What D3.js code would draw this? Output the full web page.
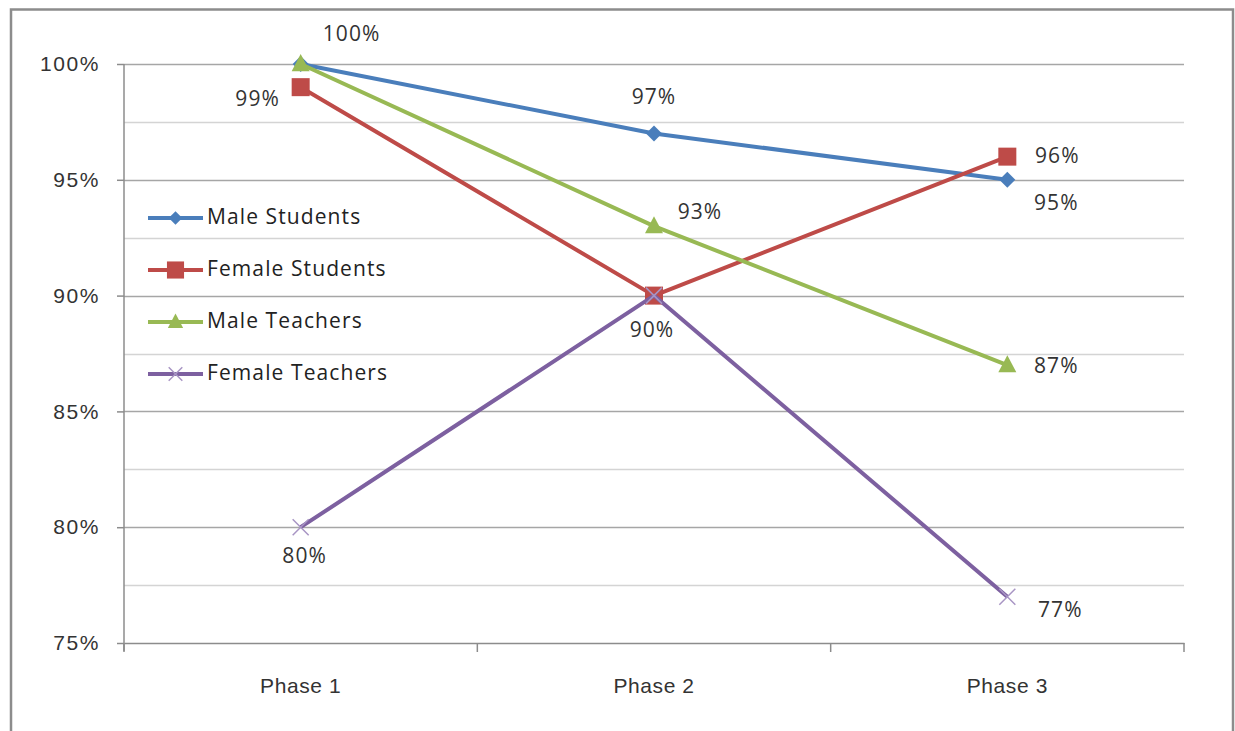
<!DOCTYPE html>
<html>
<head>
<meta charset="utf-8">
<script src="https://cdn.jsdelivr.net/npm/d3@7"></script>
<style>
  html, body { margin: 0; padding: 0; background: #fff; }
  svg { display: block; font-family: "Open Sans", Lato, sans-serif; }
  svg text { letter-spacing: 1.1px; }
</style>
</head>
<body>
<div id="chart"></div>
<script>
// Categories along the x axis
const phases = ["Phase 1", "Phase 2", "Phase 3"];

// Series values (percent)
const maleStudents   = [100, 97, 95];
const femaleStudents = [99, 90, 96];
const maleTeachers   = [100, 93, 87];
const femaleTeachers = [80, 90, 77];

// Y axis tick labels
const yTicks = [75, 80, 85, 90, 95, 100];

const W = 1235, H = 731;
const plot = { left: 124, right: 1184, top: 64, bottom: 643 };

const series = [
  { name: "Male Students",   values: maleStudents,   color: "#4A7EBB", marker: "diamond",
    labels: [{dx: 51, dy: -29}, {dx: 0, dy: -35}, {dx: 49, dy: 25}] },
  { name: "Female Students", values: femaleStudents, color: "#BE4B48", marker: "square",
    labels: [{dx: -43, dy: 13}, null, {dx: 50, dy: 1}] },
  { name: "Male Teachers",   values: maleTeachers,   color: "#98B954", marker: "triangle",
    labels: [null, {dx: 46, dy: -13}, {dx: 49, dy: 2}] },
  { name: "Female Teachers", values: femaleTeachers, color: "#7D60A0", marker: "x",
    labels: [{dx: 4, dy: 30}, {dx: -2, dy: 36}, {dx: 53, dy: 15}] }
];

const svg = d3.select("#chart").append("svg")
  .attr("width", W).attr("height", H);

// outer chart frame
svg.append("rect")
  .attr("x", 11).attr("y", 9.5).attr("width", 1222).attr("height", 740)
  .attr("fill", "none").attr("stroke", "#8c8c8c").attr("stroke-width", 2.5);

const x = d3.scaleBand().domain(phases)
  .range([plot.left, plot.right]).paddingInner(0).paddingOuter(0);
const y = d3.scaleLinear().domain([75, 100])
  .range([plot.bottom, plot.top]);

// minor gridlines every 2.5%
const minor = d3.range(77.5, 100, 5);
svg.append("g").selectAll("line").data(minor).join("line")
  .attr("x1", plot.left).attr("x2", plot.right)
  .attr("y1", d => Math.round(y(d)) + 0.5).attr("y2", d => Math.round(y(d)) + 0.5)
  .attr("stroke", "#d4d4d4").attr("stroke-width", 1.5);

// major gridlines
svg.append("g").selectAll("line").data(yTicks.filter(d => d > 75)).join("line")
  .attr("x1", plot.left).attr("x2", plot.right)
  .attr("y1", d => Math.round(y(d)) + 0.5).attr("y2", d => Math.round(y(d)) + 0.5)
  .attr("stroke", "#a6a6a6").attr("stroke-width", 1.5);

// y axis
const yAxis = svg.append("g")
  .attr("transform", `translate(${plot.left},0)`)
  .call(d3.axisLeft(y).tickValues(yTicks).tickFormat(d => d + "%").tickSize(7).tickPadding(17));
yAxis.select(".domain").attr("stroke", "#8c8c8c").attr("stroke-width", 1.5)
  .attr("d", `M0,${y(100)}V${y(75) + 8}`);
yAxis.selectAll(".tick line").attr("stroke", "#8c8c8c").attr("stroke-width", 1.5);
yAxis.selectAll(".tick text").attr("fill", "#333").style("font-size", "21px")
  .style("letter-spacing", "1.6px");

// x axis
const xAxis = svg.append("g")
  .attr("transform", `translate(0,${y(75)})`)
  .call(d3.axisBottom(x).tickSize(0).tickPadding(35));
xAxis.select(".domain").attr("stroke", "#8c8c8c").attr("stroke-width", 1.5);
xAxis.selectAll(".tick text").attr("fill", "#333").style("font-size", "21px")
  .style("letter-spacing", "0.6px");
// category boundary tick marks
const bounds = [0, 1, 2, 3].map(i => plot.left + i * x.bandwidth());
xAxis.selectAll(".bound").data(bounds).join("line")
  .attr("class", "bound")
  .attr("x1", d => d).attr("x2", d => d).attr("y1", 0).attr("y2", 9)
  .attr("stroke", "#8c8c8c").attr("stroke-width", 1.5);

const cx = p => x(p) + x.bandwidth() / 2;

function drawMarker(g, type, color, px, py, s) {
  if (type === "diamond") {
    g.append("path").attr("d", `M${px},${py - s}L${px + s},${py}L${px},${py + s}L${px - s},${py}Z`)
      .attr("fill", color);
  } else if (type === "square") {
    g.append("rect").attr("x", px - s).attr("y", py - s).attr("width", 2 * s).attr("height", 2 * s)
      .attr("fill", color);
  } else if (type === "triangle") {
    g.append("path").attr("d", `M${px},${py - s * 1.1}L${px + s},${py + s * 0.8}L${px - s},${py + s * 0.8}Z`)
      .attr("fill", color);
  } else if (type === "x") {
    g.append("path").attr("d", `M${px - s},${py - s}L${px + s},${py + s}M${px - s},${py + s}L${px + s},${py - s}`)
      .attr("stroke", "#a895c4").attr("stroke-width", 1.5).attr("fill", "none");
  }
}

const markerSize = { diamond: 8, square: 9, triangle: 9, x: 8 };

const line = d3.line().x(d => cx(d.p)).y(d => y(d.v));

// series lines and markers
series.forEach(s => {
  const pts = s.values.map((v, i) => ({ p: phases[i], v }));
  const g = svg.append("g");
  g.append("path").datum(pts).attr("d", line)
    .attr("fill", "none").attr("stroke", s.color).attr("stroke-width", 4)
    .attr("stroke-linejoin", "round");
  pts.forEach(d => drawMarker(g, s.marker, s.color, cx(d.p), y(d.v), markerSize[s.marker]));
});

// data labels
series.forEach(s => {
  s.values.forEach((v, i) => {
    const o = s.labels[i];
    if (!o) return;
    svg.append("text")
      .attr("x", cx(phases[i]) + o.dx).attr("y", y(v) + o.dy)
      .attr("text-anchor", "middle").attr("dominant-baseline", "middle")
      .attr("fill", "#333").style("font-size", "21px")
      .text(v + "%");
  });
});

// legend
const legend = svg.append("g").attr("transform", "translate(148,218)");
series.forEach((s, i) => {
  const g = legend.append("g").attr("transform", `translate(0,${i * 52})`);
  g.append("line").attr("x1", 0).attr("x2", 55).attr("y1", 0).attr("y2", 0)
    .attr("stroke", s.color).attr("stroke-width", 4);
  drawMarker(g, s.marker, s.color, 27.5, 0, markerSize[s.marker] * (s.marker === "square" ? 0.95 : 0.85));
  g.append("text").attr("x", 59).attr("y", 0).attr("dominant-baseline", "middle")
    .attr("fill", "#222").style("font-size", "21px").text(s.name);
});
</script>
</body>
</html>
